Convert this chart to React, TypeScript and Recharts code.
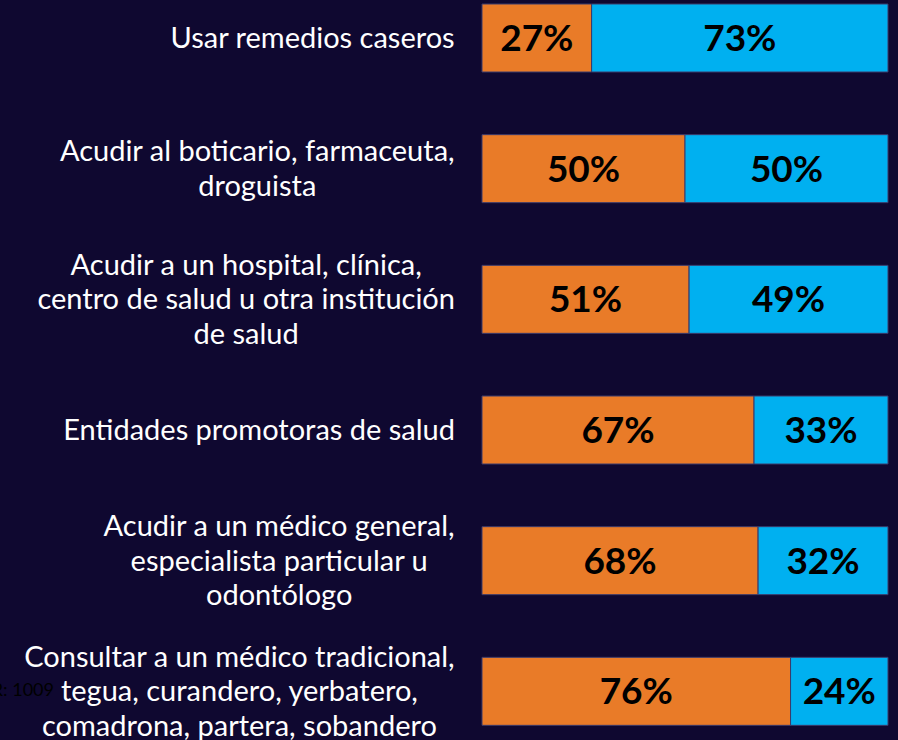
import React from "react";
import { BarChart, Bar, XAxis, YAxis, LabelList } from "recharts";

const categories = [
  "Usar remedios caseros",
  "Acudir al boticario, farmaceuta,\ndroguista",
  "Acudir a un hospital, clínica,\ncentro de salud u otra institución\nde salud",
  "Entidades promotoras de salud",
  "Acudir a un médico general,\nespecialista particular u\nodontólogo",
  "Consultar a un médico tradicional,\ntegua, curandero, yerbatero,\ncomadrona, partera, sobandero",
];
const orangeValues = [27, 50, 51, 67, 68, 76];
const blueValues = [73, 50, 49, 33, 32, 24];
const noteText = "R: 1009";

const data = categories.map((name, i) => ({
  name,
  a: orangeValues[i],
  b: blueValues[i],
}));

const BG = "#0f0830";
const LABEL_SIZE = 29;
const LABEL_FONT = `${LABEL_SIZE}px Lato`;

let ctx: CanvasRenderingContext2D | null = null;
function measure(t: string): number {
  if (!ctx) {
    const c = document.createElement("canvas");
    ctx = c.getContext("2d");
  }
  if (!ctx) return t.length * 13;
  ctx.font = LABEL_FONT;
  return ctx.measureText(t).width;
}

const Tick = (props: any) => {
  const { y, payload } = props;
  const lines: string[] = String(payload.value).split("\n");
  const maxW = Math.max(...lines.map(measure));
  const right = 455;
  const cx = right - maxW / 2;
  const lh = 34.5;
  const n = lines.length;
  return (
    <g>
      {lines.map((l, i) => (
        <text
          key={i}
          x={cx}
          y={y - 2 + (i - (n - 1) / 2) * lh}
          textAnchor="middle"
          dominantBaseline="central"
          fill="#ffffff"
          fontFamily="Lato"
          fontSize={LABEL_SIZE}
        >
          {l}
        </text>
      ))}
    </g>
  );
};

export default function App() {
  return (
    <div
      style={{
        position: "fixed",
        top: 0,
        left: 0,
        width: 898,
        height: 740,
        overflow: "hidden",
        background: BG,
      }}
    >
      <div
        style={{
          position: "absolute",
          right: 898 - 54,
          top: 680,
          fontFamily: "Lato",
          fontSize: 18,
          lineHeight: "18px",
          color: "#000000",
          whiteSpace: "nowrap",
        }}
      >
        {noteText}
      </div>
      <div style={{ position: "absolute", top: -27, left: 0 }}>
        <BarChart
          width={898}
          height={784}
          data={data}
          layout="vertical"
          margin={{ top: 0, right: 10, bottom: 0, left: 0 }}
        >
          <XAxis type="number" domain={[0, 100]} hide />
          <YAxis
            type="category"
            dataKey="name"
            width={482}
            axisLine={false}
            tickLine={false}
            tick={<Tick />}
            interval={0}
          />
          <Bar dataKey="a" stackId="s" fill="#e97b28" stroke="#3b3a6a" strokeWidth={1} barSize={68} isAnimationActive={false}>
            <LabelList
              dataKey="a"
              position="center"
              fill="#000000"
              fontSize={37}
              fontWeight={700}
              fontFamily="Lato"
              formatter={(v: any) => `${v}%`}
            />
          </Bar>
          <Bar dataKey="b" stackId="s" fill="#00b0f0" stroke="#3b3a6a" strokeWidth={1} barSize={68} isAnimationActive={false}>
            <LabelList
              dataKey="b"
              position="center"
              fill="#000000"
              fontSize={37}
              fontWeight={700}
              fontFamily="Lato"
              formatter={(v: any) => `${v}%`}
            />
          </Bar>
        </BarChart>
      </div>
    </div>
  );
}
